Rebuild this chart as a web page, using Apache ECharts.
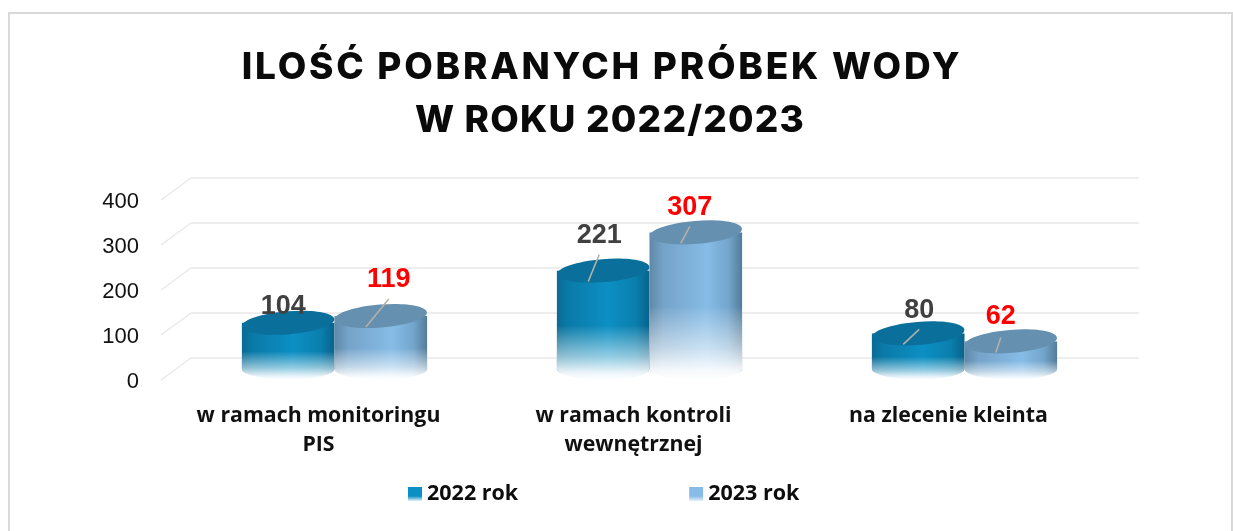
<!DOCTYPE html>
<html>
<head>
<meta charset="utf-8">
<style>html,body{margin:0;padding:0;background:#fff}#c{width:1233px;height:531px}</style>
<script src="https://cdn.jsdelivr.net/npm/echarts@6/dist/echarts.min.js"></script>
</head>
<body>
<div id="c"></div>
<script>
const titleLines = ['ILOŚĆ POBRANYCH PRÓBEK WODY', 'W ROKU 2022/2023'];
const categories = ['w ramach monitoringu\nPIS', 'w ramach kontroli\nwewnętrznej', 'na zlecenie kleinta'];
const yearA = '2022 rok';
const yearB = '2023 rok';
const valuesA = [104, 221, 80];
const valuesB = [119, 307, 62];
const yTicks = [0, 100, 200, 300, 400];

const labelNudgeA = [[-5, -16, false, 0], [-4, -35, true, -16], [1, -23, true, -4]];
const labelNudgeB = [[8, -36, true, -17], [-6, -25, true, -6], [-10, -25, true, -4]];

/* The title in the reference is letter-spaced and its lines are not on one centre:
   the canvas tracking and a small shift are applied only to those two lines. */
const titleTweak = {[titleLines[0]]:['2.75px', -4], [titleLines[1]]:['1.2px', 4]};
const nativeFillText = CanvasRenderingContext2D.prototype.fillText;
CanvasRenderingContext2D.prototype.fillText = function (t, x, y, m) {
  const tw = titleTweak[t];
  if (tw) {
    const prev = this.letterSpacing;
    this.letterSpacing = tw[0];
    nativeFillText.call(this, t, x + tw[1], y);
    this.letterSpacing = prev;
  } else {
    m === undefined ? nativeFillText.call(this, t, x, y) : nativeFillText.call(this, t, x, y, m);
  }
};

const hGrad = (stops) => ({type:'linear',x:0,y:0,x2:1,y2:0,colorStops:stops.map(s=>({offset:s[0],color:s[1]}))});
const styleA = {
  body: hGrad([[0,'#0a6a94'],[0.12,'#0a7aa8'],[0.55,'#0c8fc3'],[0.85,'#0a7fae'],[1,'#08628a']]),
  top: '#0a6f9b', label: '#404040', side: -1
};
const styleB = {
  body: hGrad([[0,'#5f88a8'],[0.15,'#75a3c9'],[0.62,'#86bce6'],[0.85,'#74a6cd'],[1,'#537c99']]),
  top: '#6690b0', label: '#ff0000', side: 1
};

function fade() {
  return {type:'linear',x:0,y:0,x2:0,y2:1,colorStops:[
    {offset:0,color:'rgba(255,255,255,0)'},
    {offset:0.5,color:'rgba(255,255,255,0)'},
    {offset:0.52,color:'rgba(255,255,255,0.05)'},
    {offset:0.78,color:'rgba(255,255,255,0.55)'},
    {offset:0.93,color:'rgba(255,255,255,0.92)'},
    {offset:1,color:'rgba(255,255,255,1)'}
  ]};
}

function cylPath(l, r, rx, ry, bTop, bBase) {
  return `M${l} ${bTop}L${l} ${bBase}A${rx} ${ry} 0 0 0 ${r} ${bBase}L${r} ${bTop}Z`;
}

function cylinder(style, nudges) {
  return function (params, api) {
    const i = api.value(0), v = api.value(1);
    const band = api.size([1, 0])[0];
    const base = api.coord([i, 0]);
    const top = api.coord([i, v]);
    const rx = band * 0.147, ry = 11.5;
    const cx = base[0] + style.side * rx;
    const l = cx - rx, r = cx + rx, bTop = top[1], bBase = base[1];
    const n = nudges[i];
    const children = [
      {type:'path', shape:{pathData:cylPath(l, r, rx, ry-1, bTop, bBase), x:l, y:bTop, width:2*rx, height:bBase-bTop+ry-1}, style:{fill:style.body}},
      {type:'path', shape:{pathData:cylPath(l, r, rx, ry, bTop, bBase), x:l, y:bTop, width:2*rx, height:bBase-bTop+ry}, style:{fill:fade()}},
      {type:'ellipse', x:cx, y:bTop, rotation:0.08, shape:{cx:0,cy:0,rx:rx,ry:ry}, style:{fill:style.top}}
    ];
    if (n[2]) {
      children.push({type:'line', shape:{x1:cx-15, y1:bTop+11, x2:cx+n[0], y2:bTop+n[3]},
        style:{stroke:'#b4b1aa', lineWidth:1.5}});
    }
    children.push({type:'text', x:cx+n[0], y:bTop+n[1], style:{
      text:String(v), fill:style.label, font:'bold 27px "Liberation Sans", Arial, sans-serif',
      textAlign:'center', textVerticalAlign:'middle'}});
    return {type:'group', children};
  };
}

const option = {
  animation:false,
  backgroundColor:'#fff',
  title:{text:titleLines.join('\n'), left:601, top:36, textAlign:'center',
    textStyle:{fontFamily:'Inter, sans-serif', fontWeight:800, fontSize:37, lineHeight:53, color:'#0a0a0a'}},
  graphic:[
    {type:'polyline', silent:true, shape:{points:[[9,531],[9,13],[1232,13],[1232,531]]},
     style:{stroke:'#d9d9d9', lineWidth:2, fill:'none'}}
  ],
  legend:{left:403, top:478, itemWidth:14, itemHeight:14, itemGap:171, icon:'rect',
    textStyle:{fontFamily:'"Open Sans", sans-serif', fontWeight:700, fontSize:21.5, color:'#0d0d0d'},
    data:[
      {name:yearA, itemStyle:{color:{type:'linear',x:0,y:0,x2:0,y2:1,colorStops:[{offset:0,color:'#0c8fc3'},{offset:0.65,color:'#0c8fc3'},{offset:1,color:'#e6f2f8'}]}}},
      {name:yearB, itemStyle:{color:{type:'linear',x:0,y:0,x2:0,y2:1,colorStops:[{offset:0,color:'#86bce6'},{offset:0.65,color:'#86bce6'},{offset:1,color:'#e6f0f8'}]}}}
    ]},
  grid:[
    {left:191, width:948, top:178, height:180},
    {left:161, width:945, top:202, height:180},
    {left:177, width:945, top:191, height:178}
  ],
  xAxis:[
    {gridIndex:0, type:'category', data:categories, show:false},
    {gridIndex:1, type:'category', data:categories, axisLine:{show:false}, axisTick:{show:false},
     axisLabel:{margin:19, interval:0, color:'#111', fontFamily:'"Open Sans", sans-serif', fontWeight:700, fontSize:21.3, lineHeight:29}},
    {gridIndex:2, type:'category', data:categories, show:false}
  ],
  yAxis:[
    {gridIndex:0, type:'value', min:0, max:400, interval:100, axisLabel:{show:false}, axisLine:{show:false}, axisTick:{show:false},
     splitLine:{lineStyle:{color:'#eeeeee', width:2}}},
    {gridIndex:1, type:'value', min:0, max:400, interval:100, axisLine:{show:false}, axisTick:{show:false}, splitLine:{show:false},
     axisLabel:{margin:22, color:'#111', fontFamily:'"Liberation Sans", Arial, sans-serif', fontSize:22}},
    {gridIndex:2, type:'value', min:0, max:400, interval:100, show:false, splitLine:{show:false}}
  ],
  series:[
    {type:'custom', silent:true, xAxisIndex:0, yAxisIndex:0, z:1, clip:false,
     data:yTicks.map(t=>[0,t]),
     renderItem:(p,api)=>{
       const a = api.coord([0, api.value(1)]);
       const x1 = 191;
       return {type:'line', shape:{x1:x1,y1:a[1],x2:x1-30,y2:a[1]+22},
         style:{stroke:'#e9e9e9', lineWidth:1.5}};
     }},
    {name:yearA, type:'custom', xAxisIndex:2, yAxisIndex:2, z:3, clip:false, silent:true,
     data:valuesA.map((v,i)=>[i,v]), encode:{x:0,y:1}, renderItem:cylinder(styleA, labelNudgeA)},
    {name:yearB, type:'custom', xAxisIndex:2, yAxisIndex:2, z:4, clip:false, silent:true,
     data:valuesB.map((v,i)=>[i,v]), encode:{x:0,y:1}, renderItem:cylinder(styleB, labelNudgeB)}
  ]
};
echarts.init(document.getElementById('c'), null, {renderer:'canvas'}).setOption(option);
</script>
</body>
</html>
